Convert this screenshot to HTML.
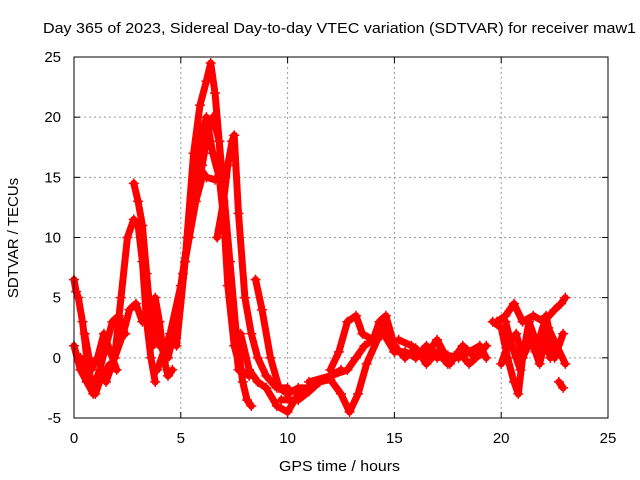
<!DOCTYPE html>
<html><head><meta charset="utf-8"><style>
html,body{margin:0;padding:0;background:#fff;}
svg{display:block;font-family:"Liberation Sans",sans-serif;}
</style></head><body>
<svg id="chart" width="640" height="480" viewBox="0 0 640 480" xmlns="http://www.w3.org/2000/svg">
<rect width="640" height="480" fill="#fff"/>
<text x="43" y="33" font-size="15" textLength="593" lengthAdjust="spacingAndGlyphs">Day 365 of 2023, Sidereal Day-to-day VTEC variation (SDTVAR) for receiver maw1</text>
<g id="grid"></g>
<g id="ticks"></g>
<g id="series"></g>
<rect x="74" y="57" width="534" height="361" fill="none" stroke="#000" stroke-width="1"/>
<text x="279" y="471" font-size="15" textLength="121" lengthAdjust="spacingAndGlyphs">GPS time / hours</text>
<text transform="translate(18,238) rotate(-90)" font-size="15" text-anchor="middle">SDTVAR / TECUs</text>
</svg>
<script>
const xTicks = [0, 5, 10, 15, 20, 25];
const yTicks = [-5, 0, 5, 10, 15, 20, 25];
const t1 = [0,0.1,0.2,0.4,0.6,0.8,1.0,1.2];
const v1 = [6.5,5.5,5,3,0,-2,-3,-2];
const t2 = [0,0.3,0.6,0.9,1.2,1.5,1.8,2.1,2.4];
const v2 = [1,-1,-2,-2.5,-1,1,3,3.5,2];
const t3 = [0.3,0.6,0.9,1.2,1.5,1.7];
const v3 = [0,-2,-3,-2,-1,-0.5];
const t4 = [1.9,2.2,2.5,2.8,3.0,3.2,3.4,3.6,3.8];
const v4 = [0,5,10,11.5,11,8,3,0,-2];
const t5 = [2.8,3.0,3.2,3.4,3.6,3.7];
const v5 = [14.5,13,11,7,3,1];
const t6 = [1.5,1.9,2.3,2.6,2.9,3.2];
const v6 = [-2,0,2,4,4.5,3];
const t7 = [3.8,4.0,4.2,4.4,4.6];
const v7 = [5,3,0,-1.5,-1];
const t8 = [3.9,4.5,5.0,5.5,6.0,6.3,6.5,6.8,7.0,7.3,7.6,7.9,8.1,8.3];
const v8 = [-1,2,6,12,16,19,20,18,14,8,2,-2,-3.5,-4];
const t9 = [4.8,5.2,5.6,5.9,6.2,6.4,6.6,6.8,7.0,7.2,7.5,7.8,8.2];
const v9 = [1,8,17,21,23,24.5,22,18,12,6,1,-1,-1.5];
const t10 = [6.7,7.0,7.2,7.4,7.5,7.7,8.0,8.3,8.6,9.0,9.5,10.0];
const v10 = [10,13,16,18,18.5,12,5,2,0,-1.5,-2.5,-2.5];
const t11 = [5.8,6.2,6.6];
const v11 = [16,15,14.8];
const t12 = [8.5,8.8,9.2,9.6,10.0,10.5,11.0];
const v12 = [6.5,4,0,-2.5,-3,-2.5,-2.5];
const t13 = [7.8,8.2,8.6,9.0,9.5,10.0,10.5,11.0,11.5,12.0,12.5];
const v13 = [2,-1,-2,-2.5,-4,-4.5,-3,-2.5,-2,-1.5,-1];
const t14 = [9.7,10.5,11.0,11.5,12.0,12.5,12.9,13.3,13.7,14.2,14.5,14.8,15.0];
const v14 = [-3.5,-3.5,-2.8,-2,-1.8,-3,-4.5,-3,-0.5,1.5,3,1.5,0.5];
const t15 = [12.0,12.4,12.8,13.2,13.5,14.0,14.5,15.0];
const v15 = [-1,0.5,3,3.5,2,1.5,2,0.5];
const t16 = [11.0,12.0,12.8,13.2,13.6,14.0,14.3,14.6,15.0];
const v16 = [-2,-1.5,-1,0,1,1.5,3,3.5,1];
const t17 = [15.0,15.5,16.0,16.5,17.0,17.5,18.0,18.5,19.0,19.3];
const v17 = [0.5,0.5,0,1,0,0.2,0,0.5,1,0];
const t18 = [15.0,15.5,16.0,16.5,17.0,17.5,18.0,18.5,19.0];
const v18 = [1,0,0.8,-0.5,0.5,-0.5,0.5,-0.5,0.3];
const t19 = [19.6,20.0,20.3,20.6,20.8,21.0,21.3,21.6,22.0,22.3,22.6,23.0];
const v19 = [3,2.5,0,-2,-3,0,2,0.5,2,0,1,-0.5];
const t20 = [19.8,20.2,20.6,21.0,21.5,22.0,22.5,22.8,23.0];
const v20 = [3,3.5,4.5,3,3.5,3,4,4.5,5];
const t21 = [20.0,20.3,20.7,21.0,21.4,21.8,22.2,22.6];
const v21 = [-0.5,1,2,0,1.5,-0.5,2.5,1];
const t22 = [22.7,22.9];
const v22 = [-2,-2.5];
const t23 = [5.3,5.6,5.9,6.2,6.5,6.8,7.1,7.4,7.7];
const v23 = [10,14,18,20,17,15,10,4,-1];
const t24 = [4.4,4.8,5.1,5.4,5.7,6.0];
const v24 = [0,3,7,10,13,15];
const t25 = [15.2,15.8,16.4,17.0,17.6,18.2,18.8,19.3];
const v25 = [1.5,1,0,1.5,-0.5,1,0,1];
const t26 = [20.2,20.5,20.9,21.3,21.7,22.1,22.5,22.9];
const v26 = [3,1,-1,3,1,3.5,0,2];
const t27 = [0.5,0.8,1.1,1.4,1.7,2.0];
const v27 = [2,-1,0,2,0.5,-1];
const t28 = [3.4,3.6,3.8,4.0];
const v28 = [5,4.5,3,1];
const tracksT = [t1,t2,t3,t4,t5,t6,t7,t8,t9,t10,t11,t12,t13,t14,t15,t16,t17,t18,t19,t20,t21,t22,t23,t24,t25,t26,t27,t28];
const tracksV = [v1,v2,v3,v4,v5,v6,v7,v8,v9,v10,v11,v12,v13,v14,v15,v16,v17,v18,v19,v20,v21,v22,v23,v24,v25,v26,v27,v28];

const NS = "http://www.w3.org/2000/svg";
const X0 = 74, X1 = 608, Y0 = 418, Y1 = 57;
function xs(t){ return X0 + (t - 0) / 25 * (X1 - X0); }
function ys(v){ return Y0 - (v + 5) / 30 * (Y0 - Y1); }
const grid = document.getElementById('grid');
const ticks = document.getElementById('ticks');
const series = document.getElementById('series');
function mk(tag, attrs){ const e = document.createElementNS(NS, tag); for (const k in attrs) e.setAttribute(k, attrs[k]); return e; }
xTicks.forEach(t => {
  const x = xs(t);
  if (t > 0 && t < 25) {
    const g = mk('line', {x1:x, x2:x, y1:Y1, y2:Y0, stroke:'#999', 'stroke-dasharray':'2,3'});
    
    
    grid.appendChild(g);
  }
  const tk = mk('line', {x1:x, x2:x, y1:Y0, y2:Y0-6, stroke:'#000'});
  
  
  ticks.appendChild(tk);
  const tk2 = mk('line', {x1:x, x2:x, y1:Y1, y2:Y1+6, stroke:'#000'});
  
  
  ticks.appendChild(tk2);
  const lb = mk('text', {x:x, y:443, 'font-size':15, 'text-anchor':'middle'});
  lb.textContent = t;
  
  
  ticks.appendChild(lb);
});
yTicks.forEach(v => {
  const y = ys(v);
  if (v > -5 && v < 25) {
    const g = mk('line', {x1:X0, x2:X1, y1:y, y2:y, stroke:'#999', 'stroke-dasharray':'2,3'});
    
    
    grid.appendChild(g);
  }
  const tk = mk('line', {x1:X0, x2:X0+6, y1:y, y2:y, stroke:'#000'});
  
  
  ticks.appendChild(tk);
  const tk2 = mk('line', {x1:X1, x2:X1-6, y1:y, y2:y, stroke:'#000'});
  
  
  ticks.appendChild(tk2);
  const lb = mk('text', {x:61, y:y+5, 'font-size':15, 'text-anchor':'end'});
  lb.textContent = v;
  
  
  ticks.appendChild(lb);
});
tracksT.forEach((ts, i) => {
  const vs = tracksV[i];
  const pts = ts.map((t, j) => xs(t).toFixed(1) + ',' + ys(vs[j]).toFixed(1)).join(' ');
  const pl = mk('polyline', {points:pts, fill:'none', stroke:'#ff0000', 'stroke-width':7, 'stroke-linejoin':'round', 'stroke-linecap':'round'});
  
  
  series.appendChild(pl);
  ts.forEach((t, j) => {
    const x = xs(t), y = ys(vs[j]);
    const p = mk('path', {d:`M${x-5},${y}H${x+5}M${x},${y-5}V${y+5}`, stroke:'#ff0000', 'stroke-width':1.5});
    
    
    series.appendChild(p);
  });
});
</script>
</body></html>
